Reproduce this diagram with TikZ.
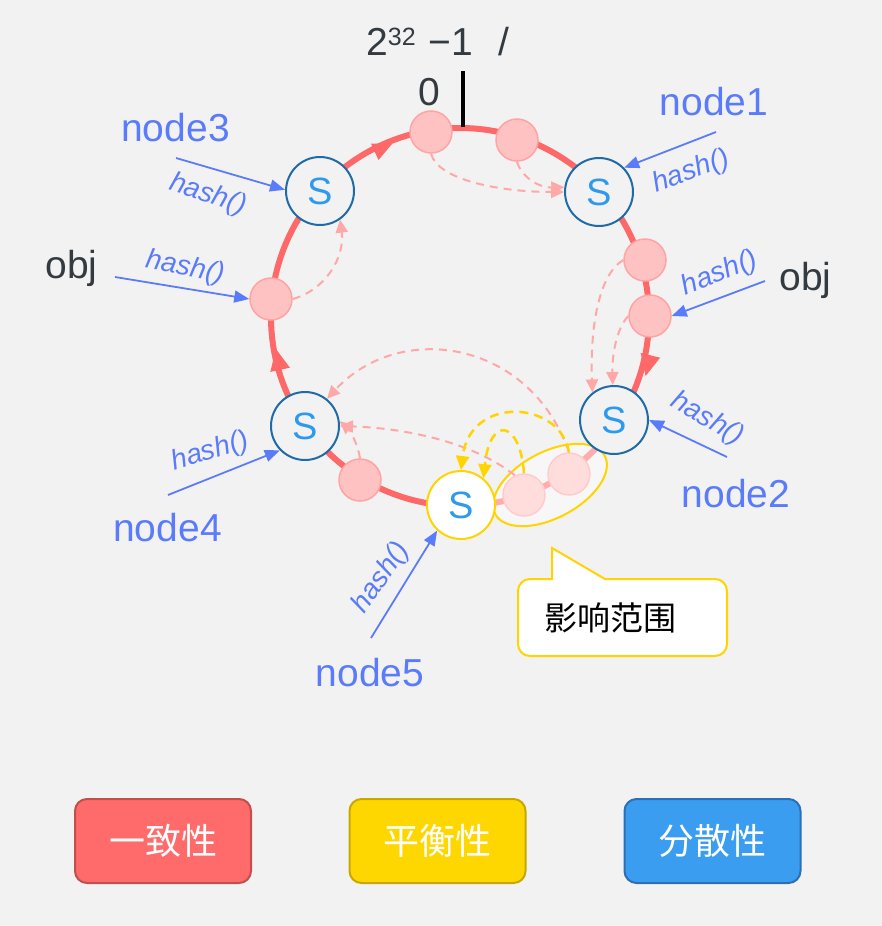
\documentclass[tikz,border=0pt]{standalone}
\usepackage{fontspec}
\setmainfont{Liberation Sans}
\newfontfamily\cjk{Noto Sans CJK SC}
\usetikzlibrary{arrows.meta,shapes.geometric}
\definecolor{bg}{HTML}{F2F2F2}
\definecolor{ringc}{HTML}{FF6868}
\definecolor{pinkf}{HTML}{FFC2C2}
\definecolor{pinkb}{HTML}{FFA3A3}
\definecolor{pinkd}{HTML}{FFA8A8}
\definecolor{sblue}{HTML}{1E6BA8}
\definecolor{stext}{HTML}{2E9AEE}
\definecolor{lblue}{HTML}{5B7CFA}
\definecolor{dtext}{HTML}{333A40}
\definecolor{yel}{HTML}{FFD400}
\definecolor{b1f}{HTML}{FF6B6B}
\definecolor{b1d}{HTML}{C0504D}
\definecolor{b2f}{HTML}{FFD700}
\definecolor{b2d}{HTML}{C8A800}
\definecolor{b3f}{HTML}{3A9DF0}
\definecolor{b3d}{HTML}{2B6FB5}
\tikzset{
 snode/.style={circle, draw=sblue, line width=2pt, fill=bg, minimum size=68pt, inner sep=0pt, text=stext, font=\fontsize{38}{38}\selectfont},
 pnode/.style={circle, draw=pinkb, line width=1.5pt, fill=pinkf, minimum size=42pt, inner sep=0pt},
 lbl/.style={text=lblue, font=\fontsize{39}{40}\selectfont, anchor=base, inner sep=0pt},
 hashl/.style={text=lblue, font=\fontsize{28}{28}\selectfont\itshape, inner sep=0pt},
 dark/.style={text=dtext, font=\fontsize{39}{40}\selectfont, anchor=base, inner sep=0pt},
 barrow/.style={draw=lblue, line width=1.8pt, -{Triangle[length=15pt,width=12pt]}},
 pdash/.style={draw=pinkd, line width=2pt, dash pattern=on 8pt off 6pt, -{Triangle[length=13pt,width=12pt]}},
 ydash/.style={draw=yel, line width=2.5pt, dash pattern=on 9pt off 6pt, -{Triangle[length=14pt,width=13pt]}},
 btn/.style={rounded corners=12pt, line width=2pt, minimum width=176pt, minimum height=84pt, inner sep=0pt, text=white, font=\cjk\fontsize{36}{36}\selectfont}
}
\begin{document}
\begin{tikzpicture}[x=1pt,y=-1pt]
\fill[bg] (0,0) rectangle (882,926);
\useasboundingbox (0,0) rectangle (882,926);

% ring
\draw[ringc, line width=6pt] (460,317) circle[radius=189];
\fill[ringc] (392,144) -- (378.5,160) -- (371,143.5) -- cycle;
\fill[ringc] (645.6,376) -- (660.1,357.7) -- (640.7,352.9) -- cycle;
\fill[ringc] (275.9,349) -- (270.3,371.9) -- (289.9,367.7) -- cycle;

% tick
\coordinate (t0) at (463,71);
\coordinate (t1) at (463,127);
\draw[black, line width=3.3pt] (t0) -- (t1);

% pink items
\node[pnode] (p1) at (431,132) {};
\node[pnode] (p2) at (517,140) {};
\node[pnode] (p4) at (645,260) {};
\node[pnode] (p5) at (650,316) {};
\node[pnode] (p3) at (271,299) {};
\node[pnode] (p6) at (360,480) {};
\node[pnode] (p7) at (524,495) {};
\node[pnode] (p8) at (569,474) {};

% range ellipse
\node[ellipse, draw=yel, line width=2pt, fill=white, fill opacity=0.45, minimum width=124pt, minimum height=66pt, inner sep=0pt, rotate=28] (range) at (550,485) {};

% servers
\node[snode] (s1) at (599,192) {S};
\node[snode] (s3) at (320,191) {S};
\node[snode] (s2) at (614,420) {S};
\node[snode] (s4) at (305,426) {S};
\node[snode, fill=white, draw=yel] (s5) at (461,505) {S};

% pink dashed arrows
\draw[pdash] (p1.south) .. controls (438,180) and (500,192) .. (s1.180);
\draw[pdash] (p2.south) .. controls (522,178) and (540,188) .. (s1.172);
\draw[pdash] (p3.east) .. controls (325,290) and (345,258) .. (s3.-55);
\draw[pdash] (p4.west) .. controls (598,275) and (590,330) .. (s2.128);
\draw[pdash] (p5.west) .. controls (615,330) and (612,360) .. (s2.92);
\draw[pdash] (p6.north) .. controls (358,445) and (350,430) .. (s4.8);
\draw[pdash] (p8.north) .. controls (530,340) and (400,320) .. (s4.51);
\draw[pdash] (p7.115) .. controls (470,440) and (400,428) .. (s4.0);

% yellow dashed arrows
\draw[ydash] (p8.north) .. controls (560,400) and (470,395) .. (s5.north);
\draw[ydash] (p7.north) .. controls (520,420) and (490,415) .. (s5.50);

% labels and hash arrows
\node[lbl] (l1) at (714,115) {node1};
\node[lbl] (l3) at (175.5,141) {node3};
\node[lbl] (l2) at (736,507) {node2};
\node[lbl] (l4) at (167.5,541) {node4};
\node[lbl] (l5) at (370,686) {node5};
\node[dark] (objl) at (71.5,278) {obj};
\node[dark] (objr) at (805.5,290) {obj};
\node[dark] (zero) at (429,105) {0};
\node[dark, anchor=base west] (top) at (366,55) {2\raisebox{10pt}{\fontsize{25}{25}\selectfont 32}\hspace{13pt}−1\hspace{25pt}/};

\coordinate (a1) at (716,132);
\coordinate (a3) at (176,158);
\coordinate (ao1) at (115,277);
\coordinate (ao2) at (765,281);
\coordinate (a2) at (727,457);
\coordinate (a4) at (168,495);
\coordinate (a5) at (371,638);
\draw[barrow] (a1) -- (s1.44);
\draw[barrow] (a3) -- (s3.178);
\draw[barrow] (ao1) -- (p3.west);
\draw[barrow] (ao2) -- (p5.east);
\draw[barrow] (a2) -- (s2.east);
\draw[barrow] (a4) -- (s4.224);
\draw[barrow] (a5) -- (s5.227);

\node[hashl, rotate=20] (h1) at (691,172) {hash()};
\node[hashl, rotate=-18] (h3) at (208,195) {hash()};
\node[hashl, rotate=-11] (ho1) at (185,268) {hash()};
\node[hashl, rotate=22] (ho2) at (720,274) {hash()};
\node[hashl, rotate=-30] (h2) at (707,419) {hash()};
\node[hashl, rotate=17] (h4) at (210,452) {hash()};
\node[hashl, rotate=55] (h5) at (381,578) {hash()};

% callout
\draw[draw=yel, fill=white, line width=2pt] (552,548) -- (605,579) [rounded corners=12pt] -- (727,579) -- (727,656) -- (518,656) -- (518,579) [sharp corners] -- (552,579) -- cycle;
\node[text=black, font=\cjk\fontsize{33}{33}\selectfont, inner sep=0pt] (callt) at (610,618) {影响范围};

% buttons
\node[btn, fill=b1f, draw=b1d] (b1) at (163,841) {一致性};
\node[btn, fill=b2f, draw=b2d] (b2) at (437.5,841) {平衡性};
\node[btn, fill=b3f, draw=b3d] (b3) at (712.5,841) {分散性};
\end{tikzpicture}
\end{document}
